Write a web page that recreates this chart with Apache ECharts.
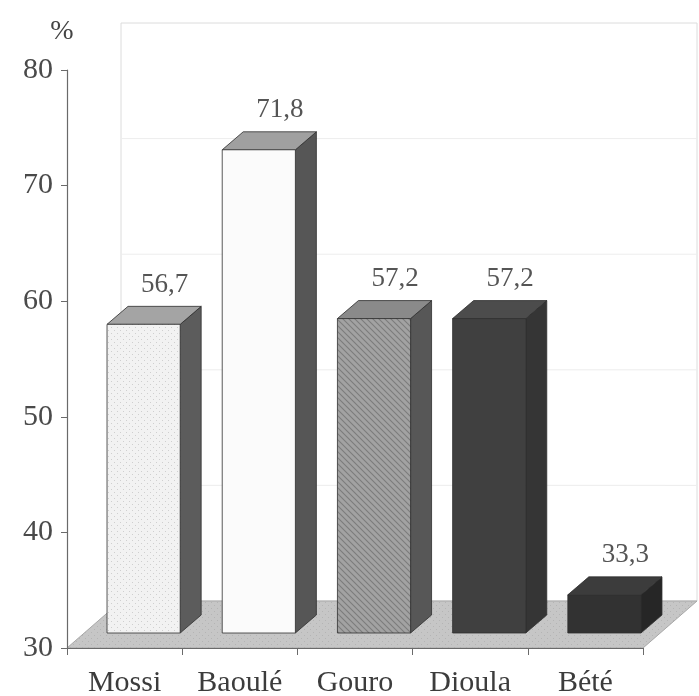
<!DOCTYPE html>
<html>
<head>
<meta charset="utf-8">
<script src="https://cdn.jsdelivr.net/npm/echarts@6/dist/echarts.min.js"></script>
<style>
  html, body { margin: 0; padding: 0; background: #ffffff; }
  #chart { width: 699px; height: 696px; }
</style>
</head>
<body>
<div id="chart"></div>
<script>
// Share (%) by ethnic group
const categories = ['Mossi', 'Baoulé', 'Gouro', 'Dioula', 'Bété'];
const shares = [56.7, 71.8, 57.2, 57.2, 33.3];
const yTicks = [30, 40, 50, 60, 70, 80];

// Pseudo-3D geometry (pixels): floor depth, bar placement on the floor, bar depth
const FLOOR = [54, -47];
const OFFSET = [19, -15];
const DEPTH = [21, -18];
const SERIF = '"Liberation Serif", "DejaVu Serif", serif';

// Small tiled textures for the bar faces
function texture(bg, draw) {
  const c = document.createElement('canvas');
  c.width = 6; c.height = 6;
  const g = c.getContext('2d');
  g.fillStyle = bg; g.fillRect(0, 0, 6, 6);
  draw(g);
  return { image: c, repeat: 'repeat' };
}
const stipple = texture('#f2f2f2', g => {
  g.fillStyle = '#cfcfcf';
  g.fillRect(0, 0, 1, 1); g.fillRect(3, 3, 1, 1);
});
const hatch = texture('#a2a2a2', g => {
  g.strokeStyle = '#7c7c7c'; g.lineWidth = 1.1;
  g.beginPath();
  g.moveTo(-1, -1); g.lineTo(7, 7);
  g.moveTo(-4, 2); g.lineTo(4, 10);
  g.moveTo(2, -4); g.lineTo(10, 4);
  g.stroke();
});
const floorTex = texture('#c6c6c6', g => {
  g.fillStyle = '#b4b4b4';
  g.fillRect(1, 2, 1, 1); g.fillRect(4, 5, 1, 1);
});

const faces = [
  { front: stipple,   top: '#a4a4a4', side: '#5c5c5c' },
  { front: '#fbfbfb', top: '#a0a0a0', side: '#565656' },
  { front: hatch,     top: '#8a8a8a', side: '#575757' },
  { front: '#404040', top: '#4c4c4c', side: '#353535' },
  { front: '#323232', top: '#3c3c3c', side: '#262626' }
];

function renderScene(params, api) {
  const band = api.size([1, 0])[0];
  const y0 = yTicks[0], y1 = yTicks[yTicks.length - 1];
  const left = api.coord([0, y0])[0] - band / 2;
  const right = api.coord([categories.length - 1, y0])[0] + band / 2;
  const base = api.coord([0, y0])[1];
  const topY = api.coord([0, y1])[1];
  const [fx, fy] = FLOOR;
  const children = [];
  // back wall
  children.push({
    type: 'rect',
    shape: { x: left + fx, y: topY + fy, width: right - left, height: base - topY },
    style: { fill: '#ffffff', stroke: '#dcdcdc', lineWidth: 1 }
  });
  yTicks.slice(1, -1).forEach(t => {
    const y = api.coord([0, t])[1] + fy;
    children.push({
      type: 'line',
      shape: { x1: left + fx, y1: y, x2: right + fx, y2: y },
      style: { stroke: '#ededed', lineWidth: 1 }
    });
  });
  // floor
  children.push({
    type: 'polygon',
    shape: { points: [[left, base], [right, base], [right + fx, base + fy], [left + fx, base + fy]] },
    style: { fill: floorTex, stroke: '#a8a8a8', lineWidth: 1 }
  });
  return { type: 'group', children };
}

function renderBar(params, api) {
  const i = api.value(0);
  const v = api.value(1);
  const base = api.coord([i, yTicks[0]]);
  const top = api.coord([i, v]);
  const band = api.size([1, 0])[0];
  const w = band * 0.635;
  const xl = base[0] + OFFSET[0] - w / 2;
  const xr = xl + w;
  const yb = base[1] + OFFSET[1];
  const yt = top[1] + OFFSET[1];
  const [dx, dy] = DEPTH;
  const f = faces[i];
  const edge = { stroke: '#2e2e2e', lineWidth: 0.8 };
  return {
    type: 'group',
    children: [
      { type: 'polygon', shape: { points: [[xr, yt], [xr + dx, yt + dy], [xr + dx, yb + dy], [xr, yb]] },
        style: Object.assign({ fill: f.side }, edge) },
      { type: 'polygon', shape: { points: [[xl, yt], [xr, yt], [xr + dx, yt + dy], [xl + dx, yt + dy]] },
        style: Object.assign({ fill: f.top }, edge) },
      { type: 'polygon', shape: { points: [[xl, yb], [xr, yb], [xr, yt], [xl, yt]] },
        style: Object.assign({ fill: f.front }, edge) },
      { type: 'text',
        style: {
          text: String(v).replace('.', ','),
          x: (xl + xr) / 2 + dx, y: yt + dy - 8,
          align: 'center', verticalAlign: 'bottom',
          fontFamily: SERIF, fontSize: 27, fill: '#555555'
        } }
    ]
  };
}

const chart = echarts.init(document.getElementById('chart'), null, { renderer: 'canvas' });
chart.setOption({
  animation: false,
  backgroundColor: '#ffffff',
  grid: { left: 67, right: 56, top: 70, bottom: 48, containLabel: false, outerBoundsMode: 'none' },
  xAxis: {
    type: 'category',
    data: categories,
    z: 5,
    axisLine: { lineStyle: { color: '#6a6a6a', width: 1.2 } },
    axisTick: { show: true, length: 7, lineStyle: { color: '#6a6a6a' } },
    axisLabel: { fontFamily: SERIF, fontSize: 30, color: '#3c3c3c', margin: 20 }
  },
  yAxis: {
    type: 'value',
    min: yTicks[0],
    max: yTicks[yTicks.length - 1],
    interval: yTicks[1] - yTicks[0],
    name: '%',
    nameLocation: 'end',
    nameGap: 24,
    nameTextStyle: { fontFamily: SERIF, fontSize: 28, color: '#444444', padding: [0, 10, 0, 0] },
    z: 5,
    axisLine: { show: true, lineStyle: { color: '#6a6a6a', width: 1.2 } },
    axisTick: { show: true, length: 6, lineStyle: { color: '#6a6a6a' } },
    axisLabel: { fontFamily: SERIF, fontSize: 30, color: '#4a4a4a', margin: 14 },
    splitLine: { show: false }
  },
  series: [
    { type: 'custom', data: [[0, yTicks[0]]], renderItem: renderScene, z: 1, silent: true },
    { type: 'custom', data: shares.map((v, i) => [i, v]), renderItem: renderBar, z: 3 }
  ]
});
</script>
</body>
</html>
